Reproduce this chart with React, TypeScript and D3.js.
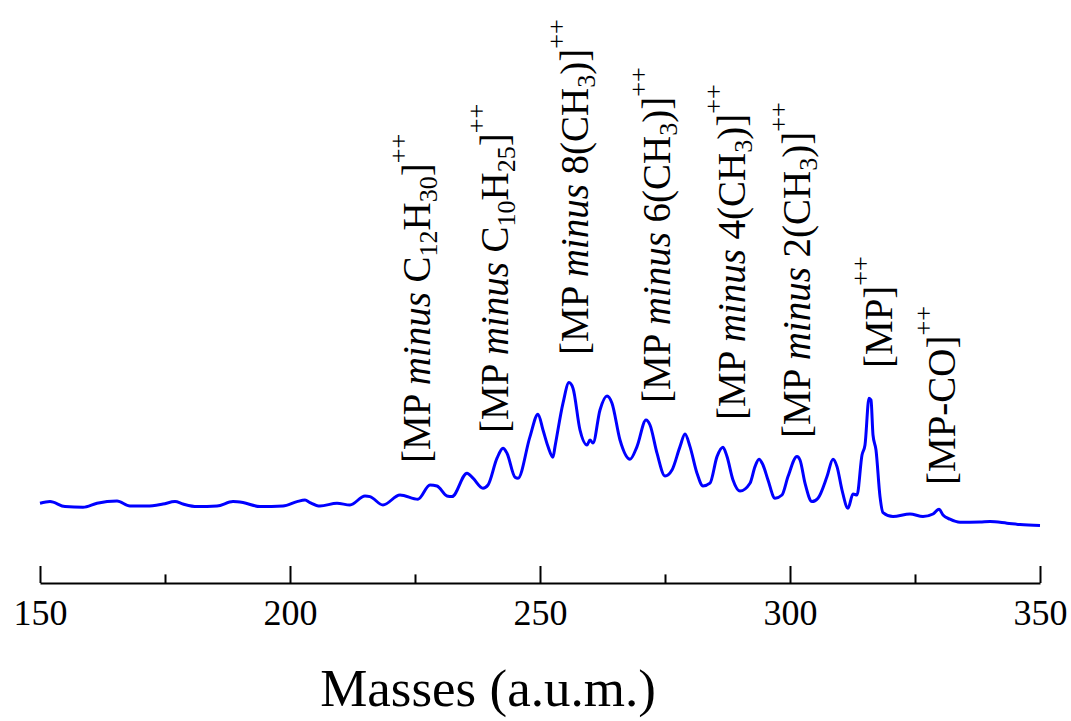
import React, { useEffect, useRef } from "react";
import * as d3 from "d3";

// spectrum (mass in a.u.m., intensity in arbitrary units)
const masses = [
  150.0, 152.0, 155.0, 158.6, 161.4, 165.4, 168.0, 171.4, 174.6, 177.0, 178.6, 181.4,
  185.4, 188.6, 190.6, 194.0, 198.6, 201.4, 203.0, 204.0, 206.0, 209.4, 212.0, 215.0,
  216.0, 218.6, 222.0, 225.6, 228.0, 229.4, 231.4, 232.4, 235.4, 236.6, 238.6, 239.6,
  241.4, 242.6, 243.4, 245.0, 245.6, 248.0, 249.6, 250.6, 251.6, 252.6, 253.0, 254.6,
  255.8, 256.6, 258.0, 259.4, 260.0, 260.6, 262.0, 263.4, 264.4, 266.0, 268.0, 269.4,
  271.2, 272.0, 273.4, 275.0, 276.4, 278.0, 279.0, 280.0, 281.4, 282.6, 284.0, 285.4,
  286.6, 287.4, 288.6, 290.0, 292.0, 293.0, 293.8, 294.6, 295.6, 297.0, 298.4, 299.6,
  301.4, 302.0, 303.0, 304.4, 305.6, 307.4, 308.6, 309.4, 310.4, 311.6, 312.6, 313.4,
  314.4, 315.0, 315.8, 316.2, 316.6, 317.2, 318.0, 318.6, 320.6, 324.0, 326.6, 328.6,
  329.8, 330.6, 332.0, 334.0, 338.0, 340.0, 343.4, 346.0, 350.0,
];
const intensities = [
  39.9, 40.7, 38.2, 37.9, 39.9, 41.0, 38.5, 38.5, 39.5, 40.7, 39.5, 38.2,
  38.5, 40.7, 40.2, 38.2, 38.5, 40.7, 41.5, 40.2, 38.5, 39.9, 39.0, 43.5,
  43.2, 39.0, 44.0, 41.9, 49.0, 48.5, 43.5, 43.2, 54.9, 52.4, 47.4, 49.0,
  62.4, 67.4, 64.9, 52.9, 52.4, 73.2, 84.4, 76.5, 68.2, 62.9, 68.2, 89.9,
  100.2, 97.4, 76.5, 69.0, 71.5, 70.0, 86.5, 93.5, 89.9, 71.5, 61.9, 68.2,
  81.5, 79.0, 64.9, 53.5, 56.5, 68.2, 74.5, 68.2, 54.9, 48.5, 49.9, 63.2,
  67.9, 63.2, 51.5, 46.0, 49.9, 58.2, 61.9, 59.0, 51.5, 42.4, 44.0, 53.2,
  63.2, 61.5, 49.9, 40.7, 42.4, 53.2, 61.9, 58.2, 46.5, 37.4, 44.5, 44.0,
  64.0, 69.0, 92.4, 91.5, 74.0, 66.5, 43.2, 35.2, 33.2, 34.5, 33.2, 34.5,
  36.9, 34.0, 31.9, 30.4, 30.5, 30.7, 29.9, 29.2, 28.7,
];

const majorTicks = [150, 200, 250, 300, 350];
const minorTicks = [175, 225, 275, 325];

// peak annotations, split into plain / italic / subscript pieces
type Part = { t: string; sub?: boolean; it?: boolean };
const labelParts: Part[][] = [
  [{ t: "[MP " }, { t: "minus", it: true }, { t: " C" }, { t: "12", sub: true }, { t: "H" }, { t: "30", sub: true }, { t: "]" }],
  [{ t: "[MP " }, { t: "minus", it: true }, { t: " C" }, { t: "10", sub: true }, { t: "H" }, { t: "25", sub: true }, { t: "]" }],
  [{ t: "[MP " }, { t: "minus", it: true }, { t: " 8(CH" }, { t: "3", sub: true }, { t: ")]" }],
  [{ t: "[MP " }, { t: "minus", it: true }, { t: " 6(CH" }, { t: "3", sub: true }, { t: ")]" }],
  [{ t: "[MP " }, { t: "minus", it: true }, { t: " 4(CH" }, { t: "3", sub: true }, { t: ")]" }],
  [{ t: "[MP " }, { t: "minus", it: true }, { t: " 2(CH" }, { t: "3", sub: true }, { t: ")]" }],
  [{ t: "[MP]" }],
  [{ t: "[MP-CO]" }],
];
const labelMass = [228, 243.6, 259.6, 276, 291, 304, 320.4, 333];
const labelLevel = [60, 75, 114, 90, 81.5, 72.5, 107.5, 49];

const W = 1071;
const H = 721;
const FONT = "'Liberation Serif', 'Times New Roman', serif";

export default function App() {
  const ref = useRef<SVGSVGElement>(null);

  useEffect(() => {
    const svg = d3.select(ref.current);
    svg.selectAll("*").remove();

    const x = d3.scaleLinear().domain([150, 350]).range([40, 1040]);
    const y = d3.scaleLinear().domain([0, 100]).range([583, 383]);
    const axisY = 583;

    // major ticks with labels
    const major = svg
      .append("g")
      .attr("transform", `translate(0,${axisY})`)
      .call(
        d3
          .axisBottom(x)
          .tickValues(majorTicks)
          .tickSizeInner(-17)
          .tickSizeOuter(0)
          .tickPadding(16)
          .tickFormat(d3.format("d"))
      );
    major.select(".domain").attr("stroke", "#000").attr("stroke-width", 2);
    major.selectAll(".tick line").attr("stroke", "#000").attr("stroke-width", 2);
    major
      .selectAll(".tick text")
      .attr("fill", "#000")
      .style("font-family", FONT)
      .style("font-size", "36px");

    // minor ticks
    const minor = svg
      .append("g")
      .attr("transform", `translate(0,${axisY})`)
      .call(d3.axisBottom(x).tickValues(minorTicks).tickSizeInner(-8.6).tickSizeOuter(0).tickFormat(() => ""));
    minor.select(".domain").remove();
    minor.selectAll(".tick line").attr("stroke", "#000").attr("stroke-width", 2);

    // spectrum
    const line = d3
      .line<number>()
      .x((_, i) => x(masses[i]))
      .y((d) => y(d))
      .curve(d3.curveMonotoneX);
    svg
      .append("path")
      .datum(intensities)
      .attr("d", line)
      .attr("fill", "none")
      .attr("stroke", "#0000ff")
      .attr("stroke-width", 3)
      .attr("stroke-linejoin", "round");

    // rotated peak labels
    labelParts.forEach((parts, i) => {
      const t = svg
        .append("text")
        .attr("transform", `translate(${x(labelMass[i])},${y(labelLevel[i])}) rotate(-90)`)
        .style("font-family", FONT)
        .style("font-size", "39px")
        .style("fill", "#000");
      let shift = 0;
      parts.forEach((p) => {
        const target = p.sub ? 7 : 0;
        const ts = t.append("tspan").text(p.t).attr("dy", target - shift);
        shift = target;
        if (p.sub) ts.style("font-size", "26px");
        if (p.it) ts.style("font-style", "italic");
      });
      t.append("tspan")
        .text("++")
        .attr("dy", -23 - shift)
        .style("font-size", "26px")
        .style("fill", "#000");
    });

    // axis title
    svg
      .append("text")
      .attr("x", 488)
      .attr("y", 706)
      .attr("text-anchor", "middle")
      .style("font-family", FONT)
      .style("font-size", "53px")
      .style("fill", "#000")
      .text("Masses (a.u.m.)");
  }, []);

  return (
    <svg
      ref={ref}
      width={W}
      height={H}
      style={{ position: "absolute", left: 0, top: 0, background: "#fff" }}
    />
  );
}
